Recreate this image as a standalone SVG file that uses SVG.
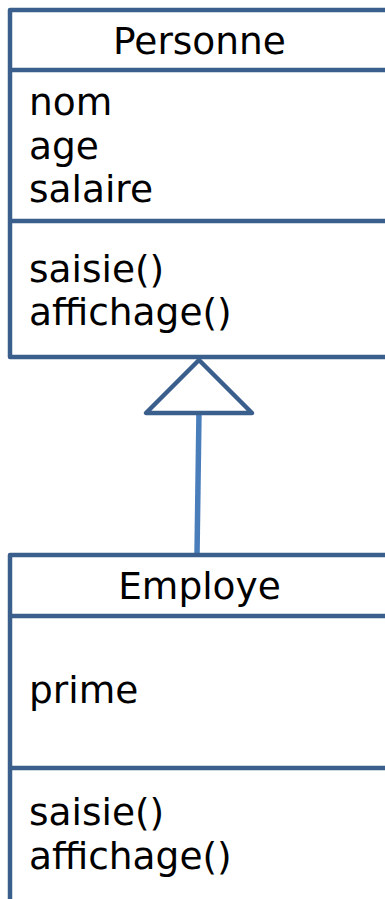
<svg xmlns="http://www.w3.org/2000/svg" width="385" height="899" viewBox="0 0 385 899">
<style>
.box{fill:#ffffff;stroke:#3b5f8d;stroke-width:4.5;stroke-linejoin:round}
.div{stroke:#3b5f8d;stroke-width:4.5}
.t{font-family:"DejaVu Sans",sans-serif;font-size:37.5px;fill:#000}
.c{text-anchor:middle}
</style>
<rect width="385" height="899" fill="#ffffff"/>
<g id="connectors">
<line x1="199" y1="412" x2="197" y2="555" stroke="#4a7ebb" stroke-width="5.5"/>
<polygon points="199,360 146,413 252,413" fill="#ffffff" stroke="#3b5f8d" stroke-width="4.5" stroke-linejoin="round"/>
</g>
<g id="personne">
<rect class="box" x="10" y="10" width="400" height="347"/>
<line class="div" x1="10" y1="70" x2="400" y2="70"/>
<line class="div" x1="10" y1="221" x2="400" y2="221"/>
<text class="t c" x="199.5" y="54">Personne</text>
<text class="t" x="29" y="115">nom</text>
<text class="t" x="29" y="159">age</text>
<text class="t" x="29" y="202">salaire</text>
<text class="t" x="29" y="282">saisie()</text>
<text class="t" x="29" y="325">affichage()</text>
</g>
<g id="employe">
<rect class="box" x="10" y="555" width="400" height="360"/>
<line class="div" x1="10" y1="616" x2="400" y2="616"/>
<line class="div" x1="10" y1="768" x2="400" y2="768"/>
<text class="t c" x="199.5" y="599">Employe</text>
<text class="t" x="29" y="703">prime</text>
<text class="t" x="29" y="825">saisie()</text>
<text class="t" x="29" y="869">affichage()</text>
</g>
</svg>
